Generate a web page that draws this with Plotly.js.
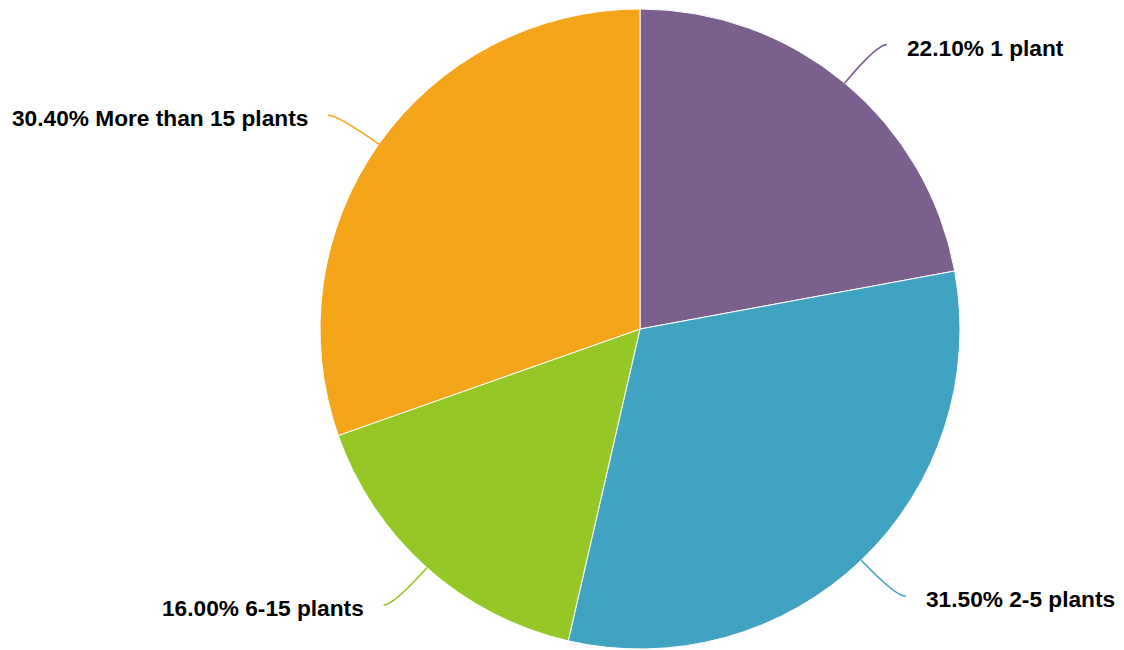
<!DOCTYPE html>
<html>
<head>
<meta charset="utf-8">
<script src="https://cdn.plot.ly/plotly-3.0.1.min.js"></script>
<style>html,body{margin:0;padding:0;background:#fff;}#chart{width:1124px;height:650px;}</style>
</head>
<body>
<div id="chart"></div>
<script>
const categories = ['1 plant', '2-5 plants', '6-15 plants', 'More than 15 plants'];
const shares = [22.1, 31.5, 16.0, 30.4];
const sliceColors = ['#7b5f8f', '#40a3c2', '#95c827', '#f4a519'];

const W = 1124, H = 650;
const cx = 640, cy = 329, R = 320;
const radialLen = 50, horizLen = 10, textGap = 18;

const px = x => x / W;
const py = y => 1 - y / H;

const total = shares.reduce((a, b) => a + b, 0);
const shapes = [];
const annotations = [];
let acc = 0;
shares.forEach((v, i) => {
  const mid = (acc + v / 2) / total * 2 * Math.PI;
  acc += v;
  const ux = Math.sin(mid), uy = -Math.cos(mid);
  const x0 = cx + R * ux, y0 = cy + R * uy;
  const x1 = cx + (R + radialLen) * ux, y1 = cy + (R + radialLen) * uy;
  const right = ux >= 0;
  const x2 = x1 + (right ? horizLen : -horizLen), y2 = y1;
  shapes.push({
    type: 'path', xref: 'paper', yref: 'paper',
    path: `M ${px(x0)},${py(y0)} Q ${px(x1)},${py(y1)} ${px(x2)},${py(y2)}`,
    line: {color: sliceColors[i], width: 1.6}
  });
  annotations.push({
    xref: 'paper', yref: 'paper',
    x: px(x2 + (right ? textGap : -textGap)), y: py(y2 + 3),
    xanchor: right ? 'left' : 'right', yanchor: 'middle',
    showarrow: false,
    text: '<b>' + v.toFixed(2) + '% ' + categories[i] + '</b>',
    font: {family: 'Liberation Sans, Arial, sans-serif', size: 22.7, color: '#000'}
  });
});

const data = [{
  type: 'pie',
  labels: categories,
  values: shares,
  sort: false,
  direction: 'clockwise',
  rotation: 0,
  textinfo: 'none',
  hoverinfo: 'label+percent',
  marker: {colors: sliceColors, line: {color: '#ffffff', width: 1}},
  domain: {x: [(cx - R) / W, (cx + R) / W], y: [1 - (cy + R) / H, 1 - (cy - R) / H]}
}];

const layout = {
  width: W, height: H,
  margin: {l: 0, r: 0, t: 0, b: 0},
  paper_bgcolor: '#ffffff',
  showlegend: false,
  shapes: shapes,
  annotations: annotations
};

Plotly.newPlot('chart', data, layout, {displayModeBar: false, staticPlot: true});
</script>
</body>
</html>
